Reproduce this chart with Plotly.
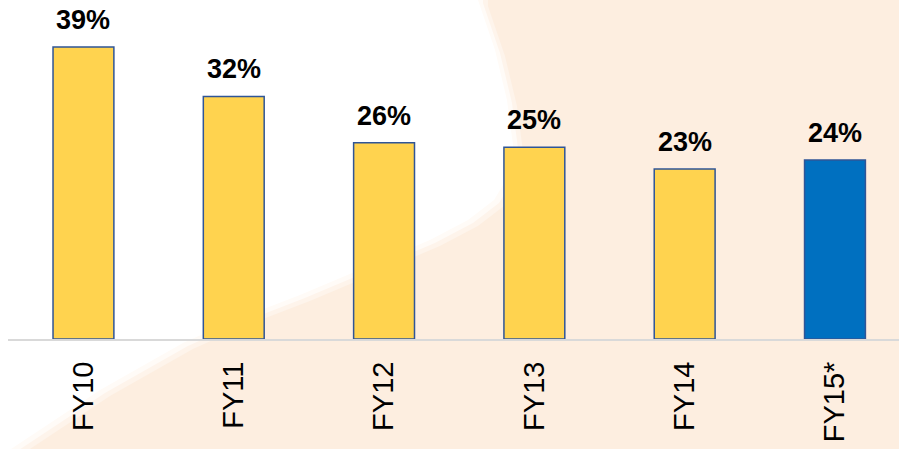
import plotly.graph_objects as go

categories = ["FY10", "FY11", "FY12", "FY13", "FY14", "FY15*"]
values = [39.0, 32.4, 26.2, 25.6, 22.7, 23.9]
value_labels = ["39%", "32%", "26%", "25%", "23%", "24%"]
bar_colors = ["#FFD34F", "#FFD34F", "#FFD34F", "#FFD34F", "#FFD34F", "#0070C0"]

W, H = 899, 449
L, T, B, R = 8, 0, 110, 0
pw, ph = W - L - R, H - T - B

def px_to_paper(x, y):
    return (x - L) / pw, (H - B - y) / ph

# white swoosh region in pixel space (decorative background)
white_pts = [(-20, -20), (478, -20), (478, 0), (495, 50), (507, 100), (513, 145), (509, 175),
             (494, 200), (468, 220), (430, 240), (383, 260), (300, 295), (230, 322),
             (183, 343), (100, 390), (20, 443), (-20, 470)]

def make_path(pts, dx=0, dy=0):
    p = ""
    for i, (x, y) in enumerate(pts):
        px, py = px_to_paper(x + dx, y + dy)
        p += ("M" if i == 0 else "L") + f"{px:.4f},{py:.4f} "
    return p + "Z"

fig = go.Figure()
fig.add_trace(go.Bar(
    x=categories, y=values, width=0.405,
    marker=dict(color=bar_colors, line=dict(color="#2F5597", width=1.5)),
    hoverinfo="skip", showlegend=False,
))

for c, v, t in zip(categories, values, value_labels):
    fig.add_annotation(x=c, y=v, text=f"<b>{t}</b>", showarrow=False, yanchor="bottom", yshift=10,
                       font=dict(family="Liberation Sans, Arial", size=27, color="#000000"))

# soft-edged white swoosh
for (dx, dy), op in [((10, 6), 0.35), ((5, 3), 0.6), ((0, 0), 1.0)]:
    fig.add_shape(type="path", path=make_path(white_pts, dx, dy), xref="paper", yref="paper",
                  layer="below", fillcolor="#FFFFFF", opacity=op, line=dict(width=0))

fig.update_layout(
    width=W, height=H,
    margin=dict(l=L, r=R, t=T, b=B),
    paper_bgcolor="#FDEEE0",
    plot_bgcolor="rgba(0,0,0,0)",
    font=dict(family="Liberation Sans, Arial", color="#000000"),
    xaxis=dict(range=[-0.502, 5.426], tickangle=-90, tickfont=dict(size=29),
               showline=True, linecolor="#D9D9D9", linewidth=2, showgrid=False,
               ticks="outside", ticklen=9, tickcolor="rgba(0,0,0,0)", fixedrange=True),
    yaxis=dict(range=[0, 45.28], visible=False, showgrid=False, fixedrange=True),
)

fig.write_html("out.html", config={"displayModeBar": False},
               post_script="document.body.style.margin='0';document.body.style.overflow='hidden';")
